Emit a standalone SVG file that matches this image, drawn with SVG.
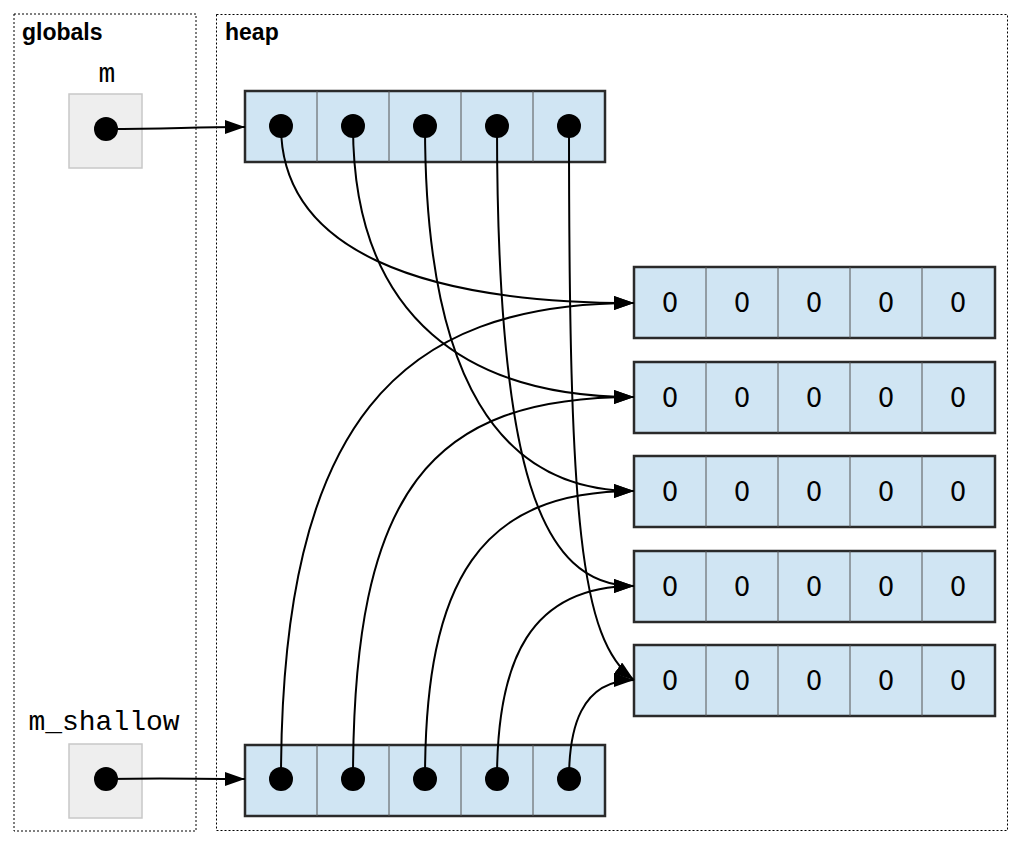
<svg xmlns="http://www.w3.org/2000/svg" width="1018" height="846" viewBox="0 0 1018 846">
<style>
.frame{fill:none;stroke:#000;stroke-width:1;stroke-dasharray:2,2}
.title{font-family:"Liberation Sans",Arial,sans-serif;font-weight:bold;font-size:23px;fill:#000}
.var{font-family:"Liberation Mono","Courier New",monospace;font-size:28px;fill:#000;text-anchor:middle}
.gbox{fill:#eeeeee;stroke:#c8c8c8;stroke-width:1.5}
.arr{fill:#d0e5f3;stroke:#2a2a2a;stroke-width:2.5}
.div{stroke:#555;stroke-width:1}
.val{font-family:"DejaVu Sans","Liberation Sans",sans-serif;font-size:26px;fill:#000;text-anchor:middle}
.dot{fill:#000}
.edge{fill:none;stroke:#000;stroke-width:2;marker-end:url(#ah)}
</style>
<defs>
<marker id="ah" markerUnits="userSpaceOnUse" markerWidth="21" markerHeight="14" refX="20" refY="7" orient="auto">
<path d="M0,0 L20,7 L0,14 Z" fill="#000"/>
</marker>
</defs>
<g id="globals">
<rect class="frame" x="14" y="14" width="182" height="817"/>
<text class="title" x="22" y="40">globals</text>
</g>
<g id="heap">
<rect class="frame" x="216.5" y="14.5" width="791" height="816"/>
<text class="title" x="225" y="40">heap</text>
</g>
<g id="m">
<text class="var" x="107" y="82">m</text>
<rect class="gbox" x="69" y="94" width="73" height="74"/>
<circle class="dot" cx="106" cy="129" r="12"/>
</g>
<g id="m_shallow">
<text class="var" x="104" y="730">m_shallow</text>
<rect class="gbox" x="69" y="744" width="73" height="74"/>
<circle class="dot" cx="106" cy="779" r="12"/>
</g>
<g id="top_array">
<rect class="arr" x="245" y="91" width="360" height="71"/>
<line class="div" x1="317" y1="91" x2="317" y2="162"/>
<line class="div" x1="389" y1="91" x2="389" y2="162"/>
<line class="div" x1="461" y1="91" x2="461" y2="162"/>
<line class="div" x1="533" y1="91" x2="533" y2="162"/>
</g>
<g id="bottom_array">
<rect class="arr" x="245" y="745" width="360" height="71"/>
<line class="div" x1="317" y1="745" x2="317" y2="816"/>
<line class="div" x1="389" y1="745" x2="389" y2="816"/>
<line class="div" x1="461" y1="745" x2="461" y2="816"/>
<line class="div" x1="533" y1="745" x2="533" y2="816"/>
</g>
<g id="row1">
<rect class="arr" x="634" y="267" width="361" height="71"/>
<line class="div" x1="706" y1="267" x2="706" y2="338"/>
<line class="div" x1="778" y1="267" x2="778" y2="338"/>
<line class="div" x1="850" y1="267" x2="850" y2="338"/>
<line class="div" x1="922" y1="267" x2="922" y2="338"/>
<text class="val" x="670" y="312">0</text><text class="val" x="742" y="312">0</text><text class="val" x="814" y="312">0</text><text class="val" x="886" y="312">0</text><text class="val" x="958" y="312">0</text>
</g>
<g id="row2">
<rect class="arr" x="634" y="362" width="361" height="71"/>
<line class="div" x1="706" y1="362" x2="706" y2="433"/>
<line class="div" x1="778" y1="362" x2="778" y2="433"/>
<line class="div" x1="850" y1="362" x2="850" y2="433"/>
<line class="div" x1="922" y1="362" x2="922" y2="433"/>
<text class="val" x="670" y="407">0</text><text class="val" x="742" y="407">0</text><text class="val" x="814" y="407">0</text><text class="val" x="886" y="407">0</text><text class="val" x="958" y="407">0</text>
</g>
<g id="row3">
<rect class="arr" x="634" y="456" width="361" height="71"/>
<line class="div" x1="706" y1="456" x2="706" y2="527"/>
<line class="div" x1="778" y1="456" x2="778" y2="527"/>
<line class="div" x1="850" y1="456" x2="850" y2="527"/>
<line class="div" x1="922" y1="456" x2="922" y2="527"/>
<text class="val" x="670" y="501">0</text><text class="val" x="742" y="501">0</text><text class="val" x="814" y="501">0</text><text class="val" x="886" y="501">0</text><text class="val" x="958" y="501">0</text>
</g>
<g id="row4">
<rect class="arr" x="634" y="551" width="361" height="71"/>
<line class="div" x1="706" y1="551" x2="706" y2="622"/>
<line class="div" x1="778" y1="551" x2="778" y2="622"/>
<line class="div" x1="850" y1="551" x2="850" y2="622"/>
<line class="div" x1="922" y1="551" x2="922" y2="622"/>
<text class="val" x="670" y="596">0</text><text class="val" x="742" y="596">0</text><text class="val" x="814" y="596">0</text><text class="val" x="886" y="596">0</text><text class="val" x="958" y="596">0</text>
</g>
<g id="row5">
<rect class="arr" x="634" y="645" width="361" height="71"/>
<line class="div" x1="706" y1="645" x2="706" y2="716"/>
<line class="div" x1="778" y1="645" x2="778" y2="716"/>
<line class="div" x1="850" y1="645" x2="850" y2="716"/>
<line class="div" x1="922" y1="645" x2="922" y2="716"/>
<text class="val" x="670" y="690">0</text><text class="val" x="742" y="690">0</text><text class="val" x="814" y="690">0</text><text class="val" x="886" y="690">0</text><text class="val" x="958" y="690">0</text>
</g>
<g id="connectors">
<path class="edge" d="M106,129 C170,129 190,127 245,127"/>
<path class="edge" d="M106,779 C170,778 190,779 245,779"/>
<path class="edge" d="M281,126 C281,250 420,303 634,303"/>
<path class="edge" d="M353,126 C353,320 470,397 634,397"/>
<path class="edge" d="M425,126 C425,380 500,491 634,491"/>
<path class="edge" d="M497,126 C497,470 540,586 634,586"/>
<path class="edge" d="M569,126 C569,520 580,640 634,680"/>
<path class="edge" d="M281,779 C281,420 400,303 634,303"/>
<path class="edge" d="M353,779 C353,490 430,397 634,397"/>
<path class="edge" d="M425,779 C425,580 480,491 634,491"/>
<path class="edge" d="M497,779 C497,660 530,586 634,586"/>
<path class="edge" d="M569,779 C569,730 580,680 634,680"/>
<circle class="dot" cx="281" cy="126" r="12"/><circle class="dot" cx="353" cy="126" r="12"/><circle class="dot" cx="425" cy="126" r="12"/><circle class="dot" cx="497" cy="126" r="12"/><circle class="dot" cx="569" cy="126" r="12"/>
<circle class="dot" cx="281" cy="779" r="12"/><circle class="dot" cx="353" cy="779" r="12"/><circle class="dot" cx="425" cy="779" r="12"/><circle class="dot" cx="497" cy="779" r="12"/><circle class="dot" cx="569" cy="779" r="12"/>
</g>
</svg>
